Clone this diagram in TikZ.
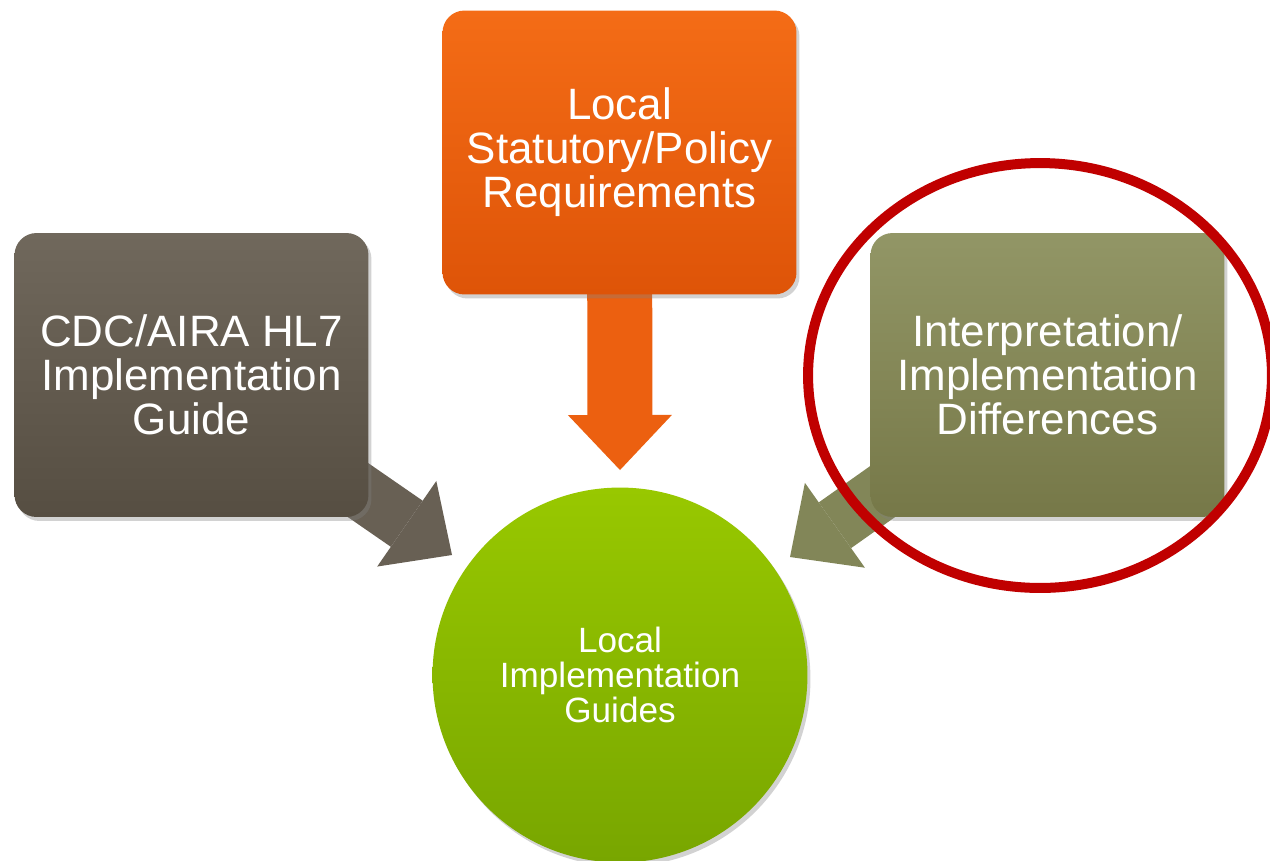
\documentclass[tikz,border=0pt]{standalone}
\usepackage{fontspec}
\setmainfont{Liberation Sans}
\usetikzlibrary{arrows.meta,shadows,backgrounds}
\definecolor{graytop}{RGB}{112,104,92}
\definecolor{graybot}{RGB}{86,78,66}
\definecolor{orangetop}{RGB}{244,108,22}
\definecolor{orangebot}{RGB}{222,84,8}
\definecolor{olivetop}{RGB}{146,150,102}
\definecolor{olivebot}{RGB}{118,120,72}
\definecolor{greentop}{RGB}{152,200,0}
\definecolor{greenbot}{RGB}{120,166,0}
\definecolor{arrgray}{RGB}{104,96,84}
\definecolor{arrorange}{RGB}{236,96,16}
\definecolor{arrolive}{RGB}{130,134,88}
\definecolor{ringred}{RGB}{192,0,0}
\begin{document}
\begin{tikzpicture}[x=0.02cm,y=-0.02cm,
  box/.style={rounded corners=0.44cm, minimum width=7.08cm, minimum height=5.68cm,
    inner sep=0pt, align=center, text=white, font=\fontsize{25}{25}\selectfont,
    drop shadow={opacity=0.35, shadow xshift=0.06cm, shadow yshift=-0.08cm}},
  hub/.style={circle, minimum size=7.5cm, inner sep=0pt, align=center, text=white,
    font=\fontsize{20}{20}\selectfont, top color=greentop, bottom color=greenbot,
    drop shadow={opacity=0.35, shadow xshift=0.06cm, shadow yshift=-0.08cm}},
  fatarrow/.style={line width=#1, -{Triangle[length=1.1cm, width=2.08cm, line width=0pt]}},
  ring/.style={draw=ringred, line width=0.2cm}]
\useasboundingbox (0,0) rectangle (1270,860);
\clip (0,0) rectangle (1270,860);

\node[box, top color=graytop, bottom color=graybot] (cdc) at (191.5,375)
  {CDC/AIRA HL7\\Implementation\\Guide};
\node[box, top color=orangetop, bottom color=orangebot] (stat) at (619.5,152.5)
  {Local\\Statutory/Policy\\Requirements};
\node[box, top color=olivetop, bottom color=olivebot] (interp) at (1047.5,375)
  {Interpretation/\\Implementation\\Differences};
\node[hub] (hub) at (620,675) {Local\\Implementation\\Guides};

\coordinate (tipL) at (452,555);
\coordinate (tipT) at (620,470);
\coordinate (tipR) at (790,557);

\begin{pgfonlayer}{background}
  \fill[white] (0,0) rectangle (1270,860);
  \draw[fatarrow=1.12cm, draw=arrgray, fill=arrgray] (cdc.center) -- (tipL);
  \draw[fatarrow=1.3cm, draw=arrorange, fill=arrorange] (stat.center) -- (tipT);
  \draw[fatarrow=1.12cm, draw=arrolive, fill=arrolive] (interp.center) -- (tipR);
\end{pgfonlayer}

\draw[ring] (1040,375.5) ellipse [x radius=4.64cm, y radius=4.25cm];
\end{tikzpicture}
\end{document}
